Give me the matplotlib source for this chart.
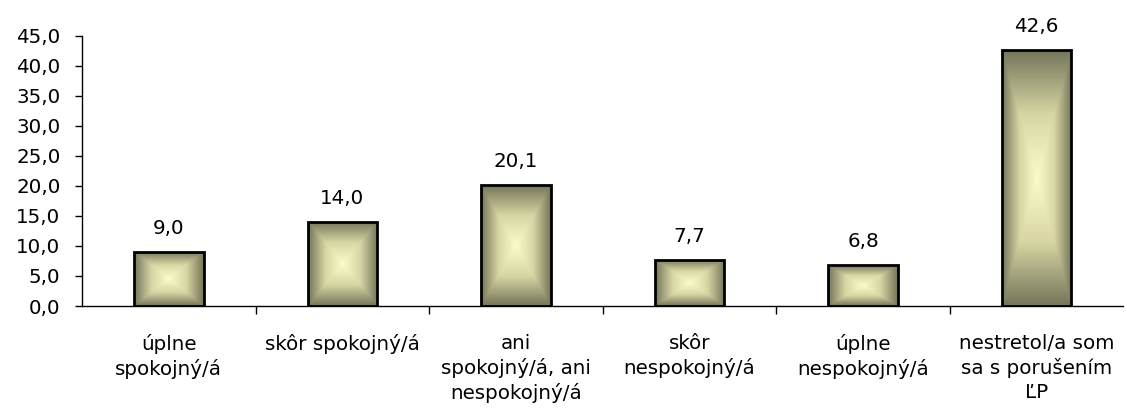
import numpy as np
import matplotlib
matplotlib.use("Agg")
import matplotlib.pyplot as plt
from matplotlib.colors import LinearSegmentedColormap

plt.rcParams['font.family'] = ['DejaVu Sans']

categories = [
    "úplne\nspokojný/á",
    "skôr spokojný/á",
    "ani\nspokojný/á, ani\nnespokojný/á",
    "skôr\nnespokojný/á",
    "úplne\nnespokojný/á",
    "nestretol/a som\nsa s porušením\nĽP",
]
values = [9.0, 14.0, 20.1, 7.7, 6.8, 42.6]
yticks = [0, 5, 10, 15, 20, 25, 30, 35, 40, 45]

FS = 14.3

# box gradient: light centre -> olive edges
cmap = LinearSegmentedColormap.from_list("box", ["#fbfbc9", "#d6d5a3", "#75755a"])
n = 200
u = np.linspace(-1, 1, n)
gx, gy = np.meshgrid(u, u)
grad = np.maximum(np.abs(gx), np.abs(gy))

fig = plt.figure(figsize=(11.27, 4.08), dpi=100)
ax = fig.add_axes([0.0728, 0.25, 0.924, 0.662])

x = np.arange(len(values))
bars = ax.bar(x, values, width=0.4, facecolor="none", edgecolor="black", linewidth=2, zorder=3)
for b in bars:
    x0, y0 = b.get_x(), b.get_y()
    im = ax.imshow(grad, cmap=cmap, extent=[x0, x0 + b.get_width(), y0, y0 + b.get_height()],
                   aspect="auto", interpolation="bilinear", zorder=2)
    im.set_clip_path(b)

for xi, v in zip(x, values):
    ax.annotate(f"{v:.1f}".replace(".", ","), (xi, v), xytext=(0, 13), textcoords="offset points",
                ha="center", va="baseline", fontsize=FS)

ax.set_xlim(-0.5, len(values) - 0.5)
ax.set_ylim(0, 45)
ax.set_yticks(yticks)
ax.set_yticklabels([f"{t:.1f}".replace(".", ",") for t in yticks], fontsize=FS)
ax.set_xticks(x)
ax.set_xticklabels(categories, fontsize=FS, linespacing=1.32, va="top")
ax.tick_params(axis="x", which="major", length=0, pad=20)
ax.set_xticks(x[:-1] + 0.5, minor=True)
ax.tick_params(axis="x", which="minor", length=6, direction="out", width=1)
ax.tick_params(axis="y", length=5, direction="out", width=1, pad=10.5)

for s in ["top", "right"]:
    ax.spines[s].set_visible(False)
ax.spines["left"].set_linewidth(1)
ax.spines["bottom"].set_linewidth(1)

fig.savefig("out.png", dpi=100)
